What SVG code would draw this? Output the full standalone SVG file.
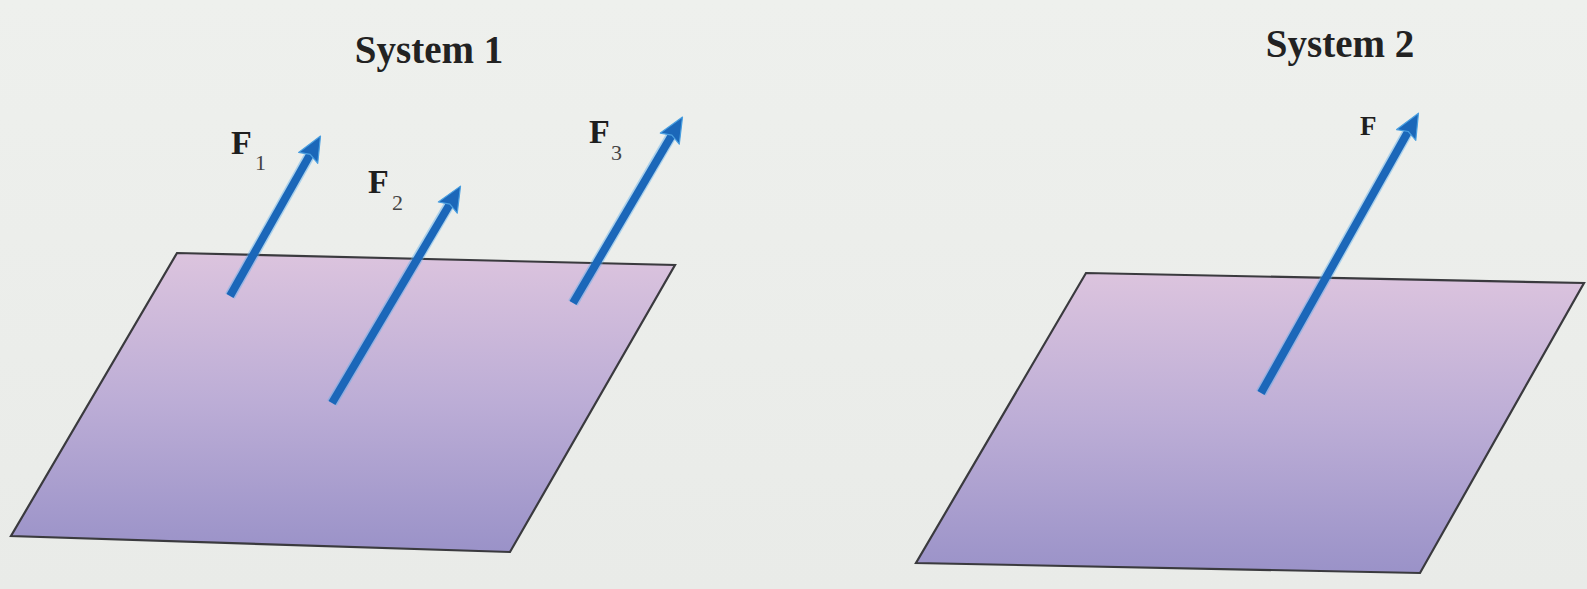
<svg xmlns="http://www.w3.org/2000/svg" width="1587" height="589" viewBox="0 0 1587 589">
<defs>
<linearGradient id="plate" x1="0" y1="0" x2="0" y2="1">
<stop offset="0" stop-color="#dcc4de"/>
<stop offset="0.5" stop-color="#bcadd6"/>
<stop offset="1" stop-color="#9a92c8"/>
</linearGradient>
<linearGradient id="bg" x1="0" y1="0" x2="0" y2="1">
<stop offset="0" stop-color="#eef0ed"/>
<stop offset="1" stop-color="#e9ebe8"/>
</linearGradient>
<marker id="head" markerUnits="userSpaceOnUse" orient="auto" refX="0" refY="0" markerWidth="40" markerHeight="30" overflow="visible">
<path d="M13,0 L-12,-11 L-8,0 L-12,11 Z" fill="#1b67b9" stroke="#4a9fe0" stroke-width="1.2" stroke-linejoin="round"/>
</marker>
</defs>
<style>
.plate{fill:url(#plate);stroke:#3a3a3e;stroke-width:2.2;stroke-linejoin:miter}
.arrow{stroke:#1b67b9;stroke-width:8;fill:none;marker-end:url(#head)}
.glow{stroke:#5aaeea;stroke-width:11;fill:none;opacity:0.45}
.title{font-family:"Liberation Serif","Times New Roman",serif;font-weight:bold;font-size:39px;fill:#222;text-anchor:middle}
.lbl{font-family:"Liberation Serif","Times New Roman",serif;font-weight:bold;font-size:34px;fill:#1e1e1e}
.sub{font-family:"Liberation Serif","Times New Roman",serif;font-size:22px;fill:#444}
</style>
<rect width="1587" height="589" fill="url(#bg)"/>
<g id="system1">
<text class="title" x="429" y="63">System 1</text>
<polygon class="plate" points="177,253 675,265 510,552 11,536"/>
</g>
<g id="system2">
<text class="title" x="1340" y="57">System 2</text>
<polygon class="plate" points="1086,273 1584,283 1420,573 916,563"/>
</g>
<g id="labels">
<text class="lbl" x="231" y="154">F</text><text class="sub" x="255" y="170">1</text>
<text class="lbl" x="368" y="193">F</text><text class="sub" x="392" y="210">2</text>
<text class="lbl" x="589" y="143">F</text><text class="sub" x="611" y="160">3</text>
<text class="lbl" x="1360" y="135" style="font-size:27px">F</text>
</g>
<g id="connectors">
<line class="glow" x1="230" y1="296" x2="312" y2="151"/>
<line class="glow" x1="332" y1="403" x2="452" y2="200"/>
<line class="glow" x1="573" y1="303" x2="674" y2="131"/>
<line class="glow" x1="1261" y1="393" x2="1410" y2="128"/>
<line class="arrow" x1="230" y1="296" x2="314.1" y2="147.4"/>
<line class="arrow" x1="332" y1="403" x2="453.9" y2="197.3"/>
<line class="arrow" x1="573" y1="303" x2="675.9" y2="128.3"/>
<line class="arrow" x1="1261" y1="393" x2="1412.1" y2="124.5"/>
</g>
</svg>
